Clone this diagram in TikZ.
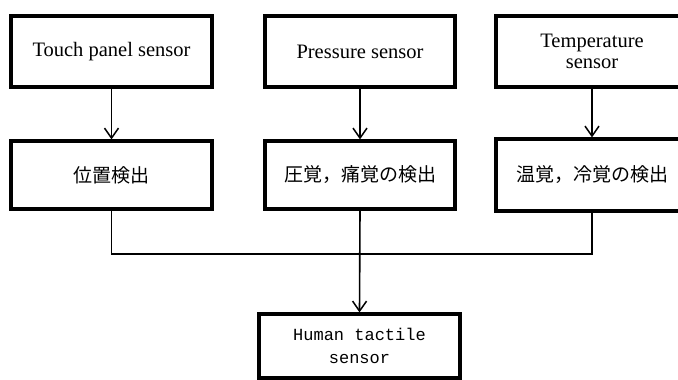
\documentclass[tikz,border=0pt]{standalone}
\usepackage{fontspec}
\setmainfont{Liberation Serif}
\newfontfamily\jpfont{Noto Sans CJK JP}
\newfontfamily\tactfont{Liberation Mono}
\usetikzlibrary{arrows.meta}
\begin{document}
\begin{tikzpicture}[x=1pt,y=-1pt,
  box/.style={draw, line width=3.2pt, inner sep=0pt, align=center},
  entext/.style={font=\fontsize{20.5}{21}\selectfont},
  jptext/.style={font=\jpfont\fontsize{19}{20}\selectfont},
  tacttext/.style={font=\tactfont\fontsize{17}{23}\selectfont},
  conn/.style={line width=1.6pt},
  arr/.style={conn, -{Straight Barb[length=10pt,width=14pt,line width=1.5pt]}}]
\useasboundingbox (0,0) rectangle (678,380);
\node[box, entext, minimum width=201pt, minimum height=71pt] (b1) at (111.5,51.5) {Touch panel sensor};
\node[box, entext, minimum width=190pt, minimum height=71pt] (b2) at (360,51.5) {Pressure sensor};
\node[box, entext, minimum width=192pt, minimum height=71pt] (b3) at (592,51.5) {Temperature\\sensor};
\node[box, jptext, minimum width=201pt, minimum height=68pt] (b4) at (111.5,175) {位置検出};
\node[box, jptext, minimum width=190pt, minimum height=68pt] (b5) at (360,175) {圧覚，痛覚の検出};
\node[box, jptext, minimum width=192pt, minimum height=72pt] (b6) at (592,175) {温覚，冷覚の検出};
\node[box, tacttext, minimum width=201pt, minimum height=64pt] (b7) at (359.5,346) {Human tactile\\sensor};
\coordinate (j) at (360,254);
\draw[arr] (b1.south) -- (b4.north);
\draw[arr] (b2.south) -- (b5.north);
\draw[arr] (b3.south) -- (b6.north);
\draw[conn] (b4.south) |- (j) -| (b6.south);
\draw[arr] (b5.south) -- (b7.north);
\end{tikzpicture}
\end{document}
